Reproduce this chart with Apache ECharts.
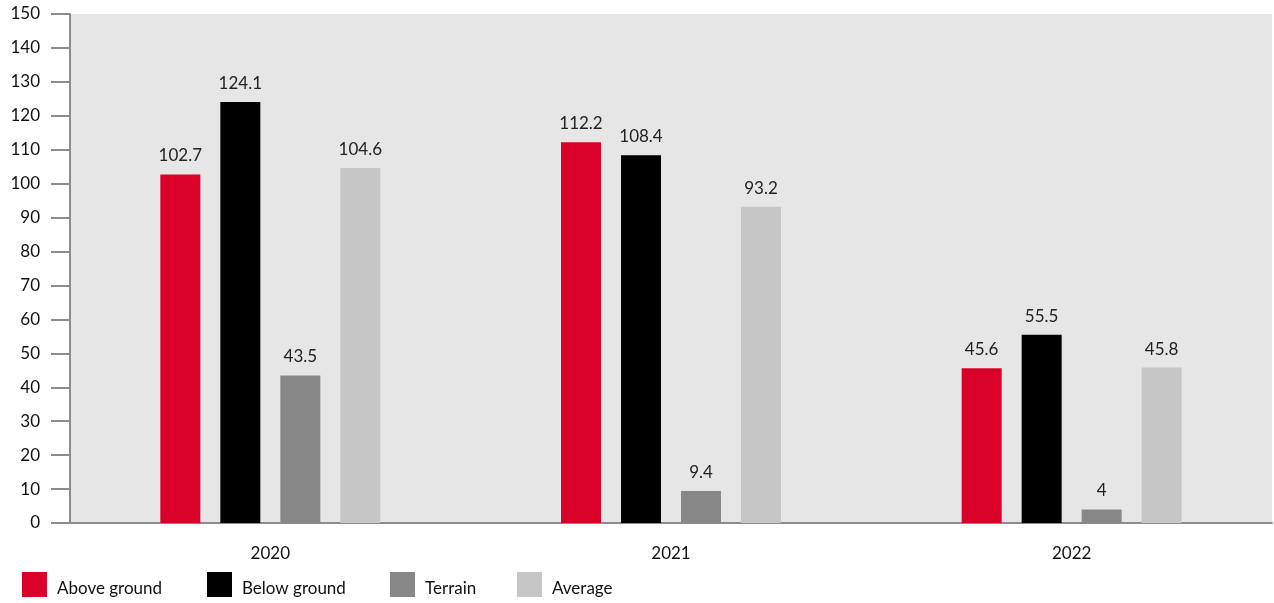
<!DOCTYPE html>
<html>
<head>
<meta charset="utf-8">
<script src="https://cdn.jsdelivr.net/npm/echarts@6/dist/echarts.min.js"></script>
<style>
  html, body { margin: 0; padding: 0; background: #fff; }
  #chart { width: 1274px; height: 603px; }
</style>
</head>
<body>
<div id="chart"></div>
<script>
// data
var years = ['2020', '2021', '2022'];
var aboveGround = [102.7, 112.2, 45.6];
var belowGround = [124.1, 108.4, 55.5];
var terrain = [43.5, 9.4, 4];
var average = [104.6, 93.2, 45.8];
var legendNames = ['Above ground', 'Below ground', 'Terrain', 'Average'];
var legendLefts = [22, 207, 390, 517];

var FONT = 'Lato, "Noto Sans", sans-serif';

var myChart = echarts.init(document.getElementById('chart'));

function barSeries(name, data, color) {
    return {
        name: name,
        type: 'bar',
        data: data,
        barWidth: 40,
        barGap: '50%',
        itemStyle: { color: color },
        label: {
            show: true,
            position: 'top',
            distance: 10,
            color: '#222',
            fontFamily: FONT,
            fontSize: 17
        }
    };
}

// one legend per item so each square sits where it does in the picture
var legends = legendNames.map(function (n, i) {
    return {
        left: legendLefts[i],
        top: 572,
        padding: 0,
        itemWidth: 25,
        itemHeight: 25,
        icon: 'rect',
        formatter: '{t|{name}}',
        textStyle: {
            color: '#111',
            fontSize: 17,
            fontFamily: FONT,
            rich: { t: { fontSize: 17, fontFamily: FONT, color: '#111', padding: [9, 0, 0, 5] } }
        },
        data: [n]
    };
});

var option = {
    animation: false,
    textStyle: { fontFamily: FONT },
    grid: {
        left: 70,
        right: 2,
        top: 14,
        bottom: 80,
        show: true,
        backgroundColor: '#e6e6e6',
        borderWidth: 0
    },
    legend: legends,
    xAxis: {
        type: 'category',
        data: years,
        axisLine: { show: true, lineStyle: { color: '#8c8c8c', width: 2 } },
        axisTick: { show: false },
        axisLabel: { color: '#111', fontSize: 17, fontFamily: FONT, margin: 22 }
    },
    yAxis: {
        type: 'value',
        min: 0,
        max: 150,
        interval: 10,
        axisLine: { show: true, lineStyle: { color: '#8c8c8c', width: 2 } },
        axisTick: { show: true, length: 19, lineStyle: { color: '#8c8c8c', width: 2 } },
        axisLabel: { color: '#111', fontSize: 17, fontFamily: FONT, margin: 30 },
        splitLine: { show: false }
    },
    series: [
        barSeries('Above ground', aboveGround, '#d9002a'),
        barSeries('Below ground', belowGround, '#000000'),
        barSeries('Terrain', terrain, '#878787'),
        barSeries('Average', average, '#c6c6c6')
    ]
};

myChart.setOption(option);
</script>
</body>
</html>
